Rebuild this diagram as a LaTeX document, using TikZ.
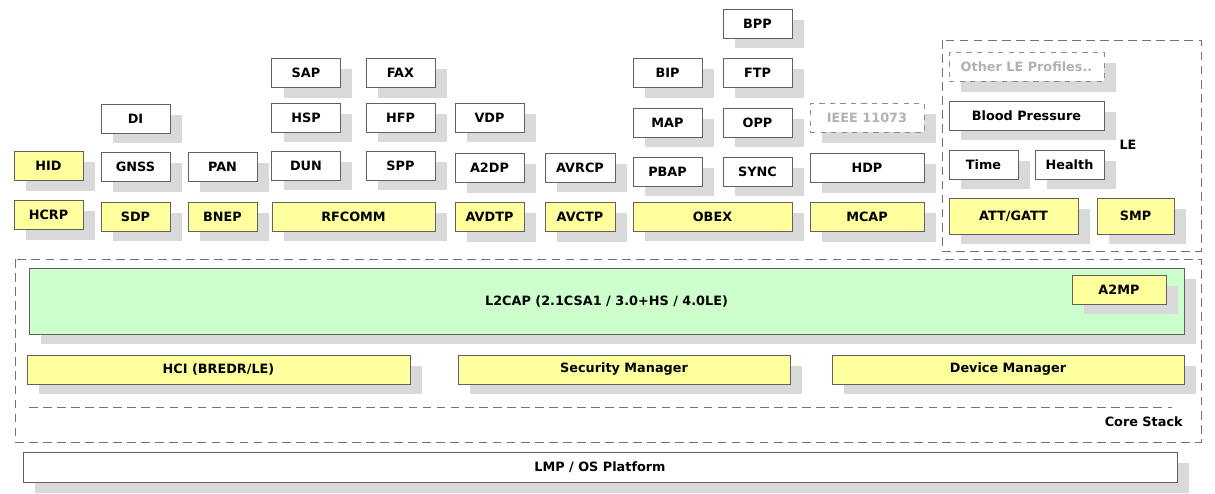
\documentclass[tikz,border=0pt]{standalone}
\usepackage{fontspec}
\setmainfont{DejaVu Sans}
\usetikzlibrary{shadows,positioning}
\definecolor{layeryellow}{HTML}{FFFF9E}
\definecolor{layergreen}{HTML}{CCFFCC}
\tikzset{
    x=0.02cm, y=-0.02cm, line width=0.7pt,
    block/.style ={rectangle, draw=black!62, fill=white, minimum width=1.38cm, minimum height=0.58cm, inner sep=1pt,
                   font=\bfseries\fontsize{7.3}{8}\selectfont,
                   drop shadow={shadow xshift=0.24cm, shadow yshift=-0.21cm, fill=black!15, opacity=1}},
    core/.style = {block, fill=layeryellow},
    ghost/.style = {block, dashed, draw=black!45, text=black!30},
    frame/.style = {draw=black!55, dash pattern=on 5pt off 3pt},
    tag/.style = {inner sep=0pt, font=\bfseries\fontsize{7.3}{8}\selectfont}
}

\begin{document}
\begin{tikzpicture}
    \useasboundingbox (0,0) rectangle (1215,494);
    % dashed frames
    \draw[frame] (942,40) rectangle (1201,251);
    \draw[frame] (15,259) rectangle (1201,442);
    \draw[frame] (29,407) -- (1172,407);
    \node (le) at (1128,145) [tag] {LE};
    \node (cs) at (1183,422) [tag, anchor=east] {Core Stack};

    % profiles
    \node (hid) at (48.5,166) [core] {HID};
    \node (hcrp) at (48.5,215) [core] {HCRP};
		\node (di) at (135.5,118.5) [block] {DI};
		\node (gnss) at (135.5,167) [block] {GNSS};
		\node (sdp) at (135.5,216.5) [core] {SDP};
		\node (pan) at (222.5,167) [block] {PAN};
		\node (bnep) at (222.5,216.5) [core] {BNEP};
    \node (sap) at (306,73) [block] {SAP};
    \node (hsp) at (306,117.5) [block] {HSP};
    \node (dun) at (306,165.5) [block] {DUN};
    \node (fax) at (400.5,73) [block] {FAX};
    \node (hfp) at (400.5,117.5) [block] {HFP};
    \node (spp) at (400.5,165.5) [block] {SPP};
    \node (rfcomm) at (353.5,216.5) [core, minimum width=3.26cm] {RFCOMM};
		\node (vdp) at (489.5,117.5) [block] {VDP};
		\node (a2dp) at (489.5,168) [block] {A2DP};
		\node (avdtp) at (489.5,217) [core] {AVDTP};
		\node (avrcp) at (580,167.5) [block, minimum width=1.4cm] {AVRCP};
		\node (avctp) at (580,217) [core, minimum width=1.4cm] {AVCTP};
    \node (bpp) at (757.5,23.5) [block] {BPP};
    \node (bip) at (667.5,73) [block] {BIP};
    \node (ftp) at (757.5,73) [block] {FTP};
    \node (map) at (667.5,122.5) [block] {MAP};
    \node (opp) at (757.5,122.5) [block] {OPP};
    \node (pbap) at (667.5,171.5) [block] {PBAP};
    \node (sync) at (757.5,171.5) [block] {SYNC};
    \node (obex) at (712.5,216.5) [core, minimum width=3.18cm] {OBEX};
		\node (ieee) at (867,118) [ghost, minimum width=2.28cm] {IEEE 11073};
		\node (hdp) at (867,168) [block, minimum width=2.28cm] {HDP};
		\node (mcap) at (867,217) [core, minimum width=2.28cm] {MCAP};

    % LE profiles
    \node (other) at (1026.5,67) [ghost, minimum width=3.1cm] {Other LE Profiles..};
    \node (bp) at (1026.5,115.5) [block, minimum width=3.1cm] {Blood Pressure};
    \node (time) at (983.5,164.5) [block] {Time};
    \node (health) at (1069.5,164.5) [block] {Health};
    \node (gatt) at (1013.5,216) [core, minimum width=2.58cm, minimum height=0.72cm] {ATT/GATT};
    \node (smp) at (1135.5,216) [core, minimum width=1.54cm, minimum height=0.72cm] {SMP};

    % core stack
    \node (l2cap) at (606.5,301) [block, fill=layergreen, minimum width=23.1cm, minimum height=1.32cm] {L2CAP (2.1CSA1 / 3.0+HS / 4.0LE)};
    \node (a2mp) at (1119,289.5) [core, minimum width=1.88cm] {A2MP};
		\node (hci) at (218.5,369.5) [core, minimum width=7.66cm] {HCI (BREDR/LE)};
		\node (sm) at (624,369.5) [core, minimum width=6.64cm] {Security Manager};
		\node (dm) at (1008,369.5) [core, minimum width=7.04cm] {Device Manager};
    \node (lmp) at (600,467) [block, minimum width=23.08cm, minimum height=0.6cm] {LMP / OS Platform};
\end{tikzpicture}
\end{document}
